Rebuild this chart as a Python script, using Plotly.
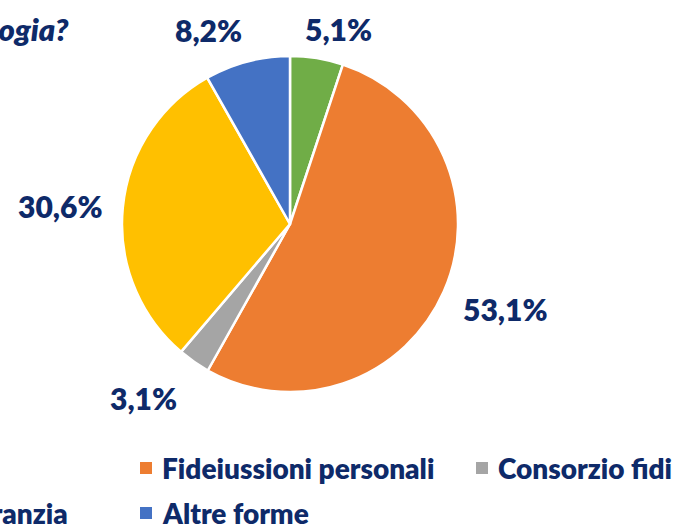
import plotly.graph_objects as go

# ---------------------------------------------------------------------------
# Data
# ---------------------------------------------------------------------------
categories = ["Ipoteca", "Fideiussioni personali", "Consorzio fidi",
              "Nessuna garanzia", "Altre forme"]
shares = [5.1, 53.1, 3.1, 30.6, 8.2]
colors = ["#70AD47", "#ED7D31", "#A5A5A5", "#FFC000", "#4472C4"]

W, H = 681, 526
NAVY = "#0E2A69"
FONT = "Lato"
WEIGHT = 800


def px(x):
    return x / W


def py(y):
    return 1 - y / H


fig = go.Figure(go.Pie(
    labels=categories,
    values=shares,
    sort=False,
    direction="clockwise",
    rotation=0,
    marker=dict(colors=colors, line=dict(color="white", width=2.5)),
    textinfo="none",
    hoverinfo="label+percent",
    showlegend=False,
    domain=dict(x=[px(122), px(458)], y=[py(392), py(56)]),
))

annotations = []

# percentage labels (pixel centres)
label_pos = [(338, 29), (505, 309), (143, 398), (60, 206), (208, 30)]
for v, (x, y) in zip(shares, label_pos):
    annotations.append(dict(
        x=px(x), y=py(y), xref="paper", yref="paper",
        text=f"{v:.1f}%".replace(".", ","), showarrow=False,
        font=dict(family=FONT, size=30, color=NAVY, weight=WEIGHT),
        xanchor="center", yanchor="middle",
    ))

# title, cropped at the left edge
annotations.append(dict(
    x=px(71), y=py(29), xref="paper", yref="paper",
    text="<i>Di che tipologia?</i>", showarrow=False,
    font=dict(family=FONT, size=31, color=NAVY, weight=WEIGHT),
    xanchor="right", yanchor="middle",
))

# manual legend (partly off-canvas like the reference)
legend_slots = [(-200, 468), (140, 468), (476, 468), (-174, 513), (140, 513)]
shapes = []
for name, col, (x, y) in zip(categories, colors, legend_slots):
    shapes.append(dict(
        type="rect", xref="paper", yref="paper",
        x0=px(x), x1=px(x + 12), y0=py(y + 6), y1=py(y - 6),
        fillcolor=col, line=dict(width=0),
    ))
    annotations.append(dict(
        x=px(x + 20), y=py(y), xref="paper", yref="paper",
        text=name, showarrow=False,
        font=dict(family=FONT, size=28, color=NAVY, weight=WEIGHT),
        xanchor="left", yanchor="middle",
    ))

fig.update_layout(
    width=W, height=H,
    margin=dict(l=0, r=0, t=0, b=0),
    paper_bgcolor="white",
    plot_bgcolor="white",
    annotations=annotations,
    shapes=shapes,
)

fig.write_html("out.html", config={"displayModeBar": False},
               post_script="document.body.style.margin='0';")
